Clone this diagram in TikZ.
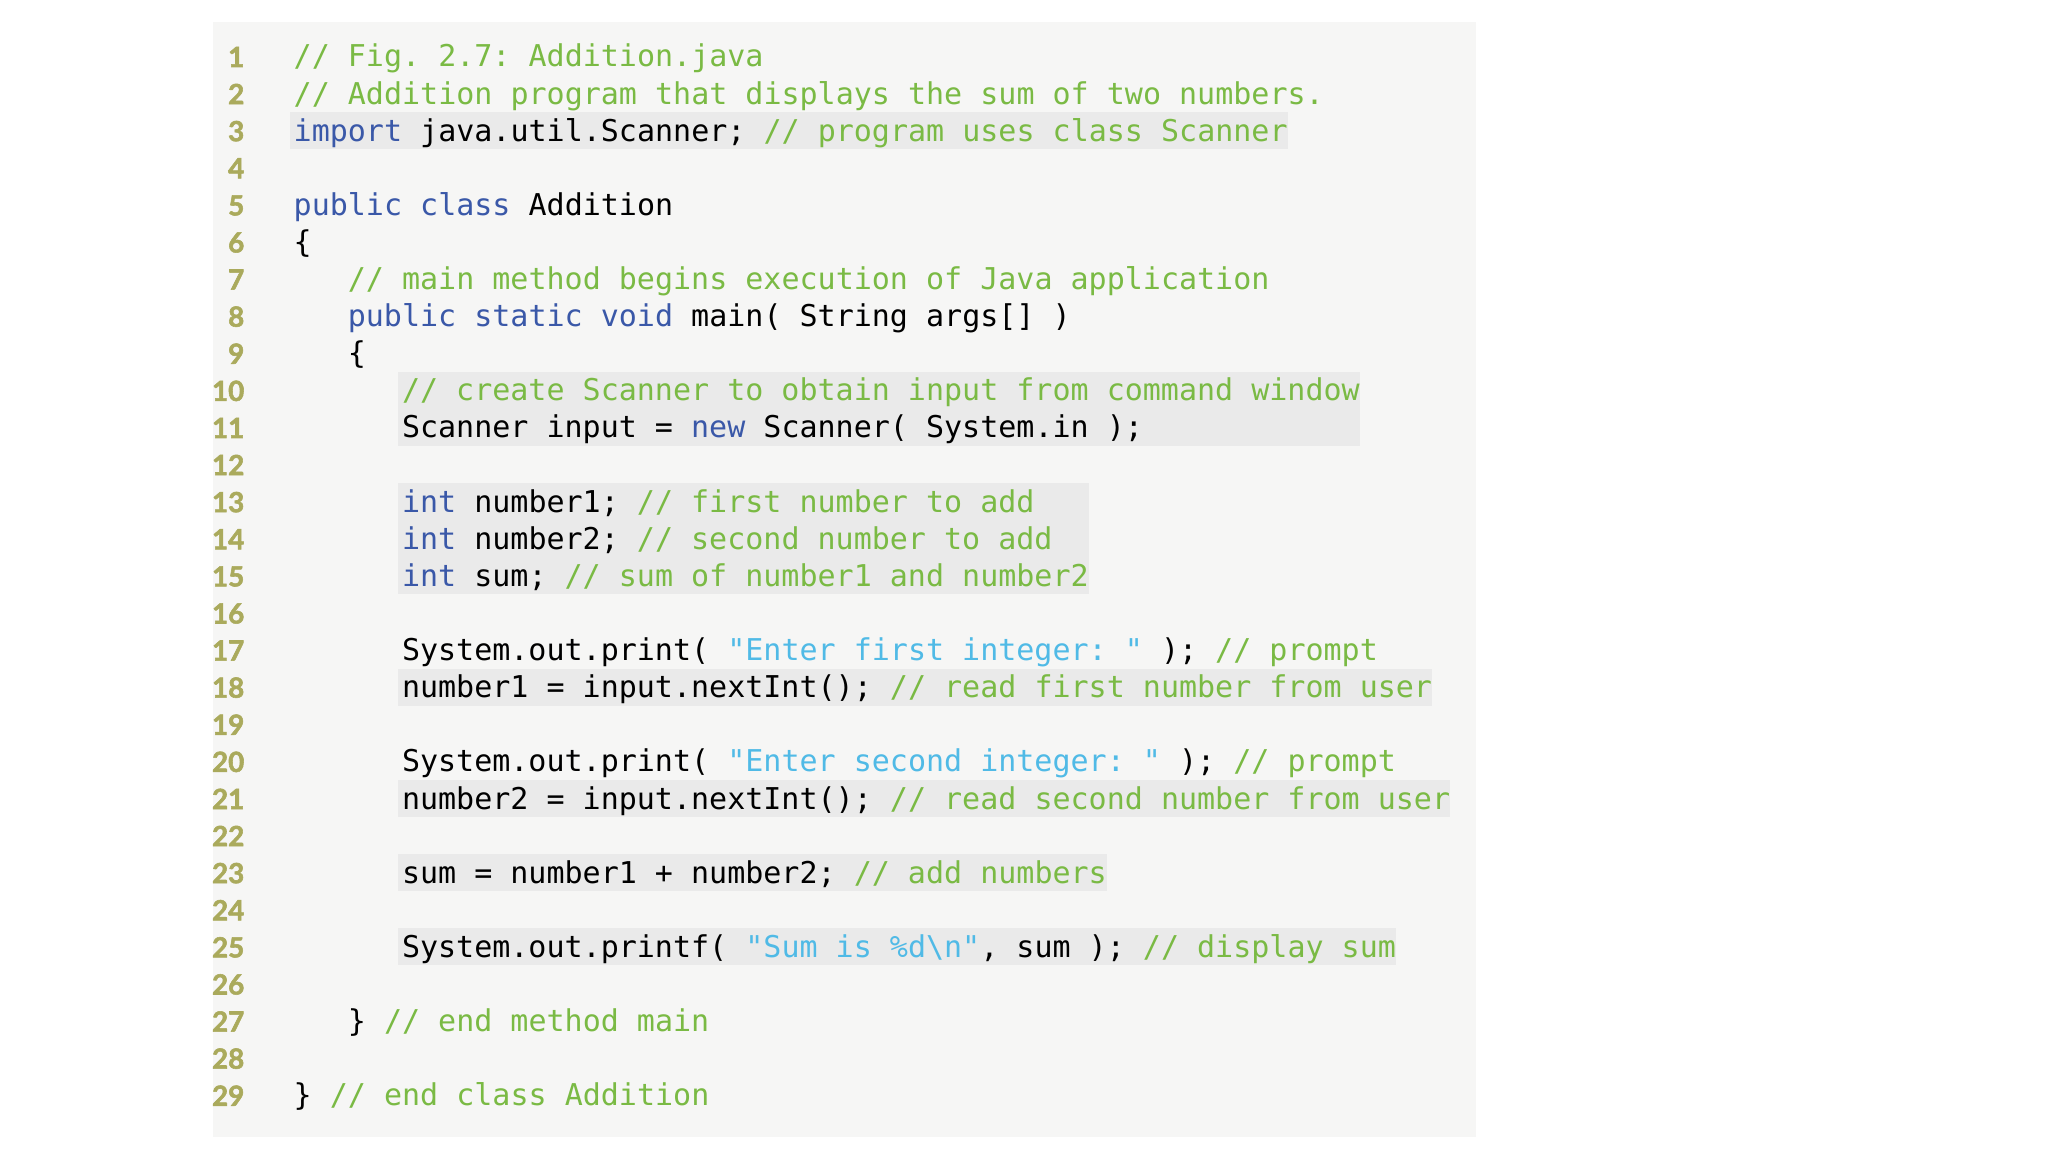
\documentclass[tikz,border=0pt]{standalone}
\usepackage{fontspec}
\newfontfamily\codefont{DejaVu Sans Mono}
\newfontfamily\numfont{Lato}[BoldFeatures={FakeBold=2}]
\definecolor{panelbg}{RGB}{246,246,245}
\definecolor{hlbg}{RGB}{234,234,234}
\definecolor{cmtgreen}{RGB}{122,186,68}
\definecolor{kwblue}{RGB}{58,88,168}
\definecolor{strcyan}{RGB}{80,186,230}
\definecolor{numolive}{RGB}{170,170,92}
\newcommand\Kw[1]{\textcolor{kwblue}{#1}}
\newcommand\Cm[1]{\textcolor{cmtgreen}{#1}}
\newcommand\Sq[1]{\textcolor{strcyan}{#1}}
\newcommand\colx[1]{293+#1*18.05}
\newcommand\basey[1]{67+(#1-1)*37.1}
\begin{document}
\begin{tikzpicture}[x=0.01cm,y=-0.01cm,
  codeline/.style={anchor=base west, inner sep=0pt, text=black,
    font=\codefont\fontsize{8.5358pt}{10pt}\selectfont\frenchspacing},
  lnum/.style={anchor=base east, inner sep=0pt, text=numolive,
    font=\numfont\bfseries\fontsize{7.9pt}{9pt}\selectfont},
  hlbox/.style={fill=hlbg}]
\useasboundingbox (0,0) rectangle (2048,1152);
\fill[white] (0,0) rectangle (2048,1152);
\fill[panelbg] (213,22) rectangle (1476,1137);
% highlight boxes: first line, last line, start col, end col
\newcommand\hlrect[4]{\fill[hlbox] ({\colx{#3}-3},{\basey{#1}-29}) rectangle ({\colx{#4}+2},{\basey{#2}+8});}
\hlrect{3}{3}{0}{55}
\hlrect{10}{11}{6}{59}
\hlrect{13}{15}{6}{44}
\hlrect{18}{18}{6}{63}
\hlrect{21}{21}{6}{64}
\hlrect{23}{23}{6}{45}
\hlrect{25}{25}{6}{61}
% line numbers
\foreach \i in {1,...,29}{
  \node[lnum] (n\i) at (245,{\basey{\i}}) {\i};
}
% code lines
\node[codeline] (l1) at ({\colx{0}},{\basey{1}}) {\Cm{// Fig. 2.7: Addition.java}};
\node[codeline] (l2) at ({\colx{0}},{\basey{2}}) {\Cm{// Addition program that displays the sum of two numbers.}};
\node[codeline] (l3) at ({\colx{0}},{\basey{3}}) {\Kw{import} java.util.Scanner; \Cm{// program uses class Scanner}};
\node[codeline] (l5) at ({\colx{0}},{\basey{5}}) {\Kw{public class} Addition};
\node[codeline] (l6) at ({\colx{0}},{\basey{6}}) {\{};
\node[codeline] (l7) at ({\colx{3}},{\basey{7}}) {\Cm{// main method begins execution of Java application}};
\node[codeline] (l8) at ({\colx{3}},{\basey{8}}) {\Kw{public static void} main( String args[] )};
\node[codeline] (l9) at ({\colx{3}},{\basey{9}}) {\{};
\node[codeline] (l10) at ({\colx{6}},{\basey{10}}) {\Cm{// create Scanner to obtain input from command window}};
\node[codeline] (l11) at ({\colx{6}},{\basey{11}}) {Scanner input = \Kw{new} Scanner( System.in );};
\node[codeline] (l13) at ({\colx{6}},{\basey{13}}) {\Kw{int} number1; \Cm{// first number to add}};
\node[codeline] (l14) at ({\colx{6}},{\basey{14}}) {\Kw{int} number2; \Cm{// second number to add}};
\node[codeline] (l15) at ({\colx{6}},{\basey{15}}) {\Kw{int} sum; \Cm{// sum of number1 and number2}};
\node[codeline] (l17) at ({\colx{6}},{\basey{17}}) {System.out.print( \Sq{"Enter first integer: "} ); \Cm{// prompt}};
\node[codeline] (l18) at ({\colx{6}},{\basey{18}}) {number1 = input.nextInt(); \Cm{// read first number from user}};
\node[codeline] (l20) at ({\colx{6}},{\basey{20}}) {System.out.print( \Sq{"Enter second integer: "} ); \Cm{// prompt}};
\node[codeline] (l21) at ({\colx{6}},{\basey{21}}) {number2 = input.nextInt(); \Cm{// read second number from user}};
\node[codeline] (l23) at ({\colx{6}},{\basey{23}}) {sum = number1 + number2; \Cm{// add numbers}};
\node[codeline] (l25) at ({\colx{6}},{\basey{25}}) {System.out.printf( \Sq{"Sum is \%d\textbackslash n"}, sum ); \Cm{// display sum}};
\node[codeline] (l27) at ({\colx{3}},{\basey{27}}) {\} \Cm{// end method main}};
\node[codeline] (l29) at ({\colx{0}},{\basey{29}}) {\} \Cm{// end class Addition}};
\end{tikzpicture}
\end{document}
